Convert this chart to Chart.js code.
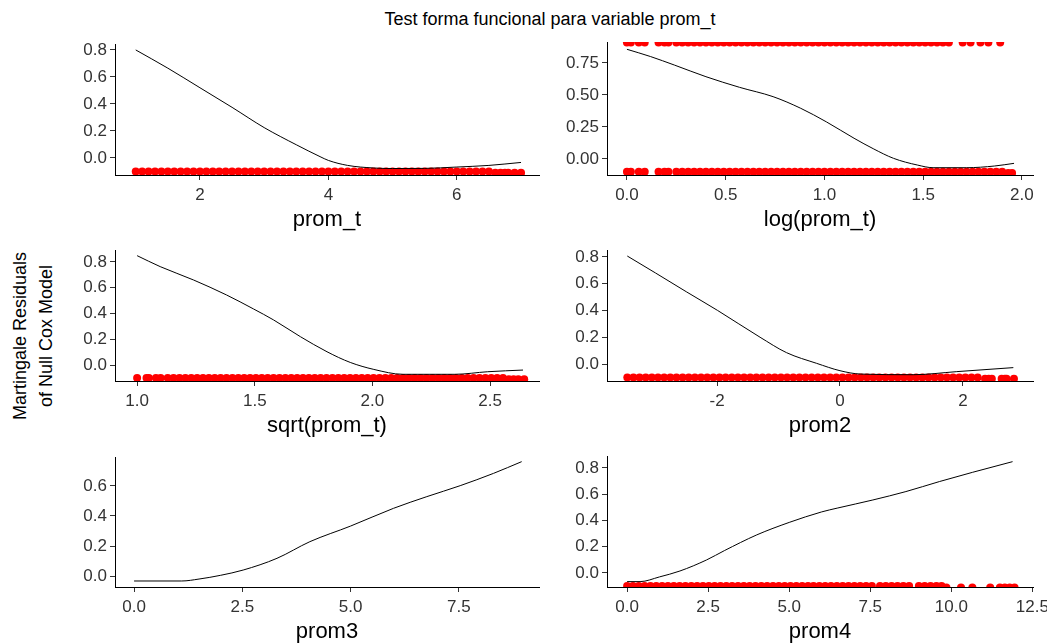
<!DOCTYPE html>
<html>
<head>
<meta charset="utf-8">
<script src="https://cdn.jsdelivr.net/npm/chart.js@4/dist/chart.umd.min.js"></script>
<style>
  body { margin: 0; width: 1047px; height: 644px; overflow: hidden; background: #fff; position: relative;
         font-family: 'Liberation Sans', Arial, sans-serif; }
  canvas { position: absolute; }
  #title { position: absolute; left: 0; top: 9px; width: 1100px; text-align: center; font-size: 18px; color: #000; }
  #ylab { position: absolute; left: -67px; top: 310px; width: 200px; height: 52px; line-height: 26px;
          text-align: center; font-size: 18px; color: #000; transform: rotate(-90deg); }
</style>
</head>
<body>
<div id="title"></div>
<div id="ylab"></div>
<script>
const titleText = 'Test forma funcional para variable prom_t';
const yLabelLines = ['Martingale Residuals', 'of Null Cox Model'];

// levels where the (clipped) residual points sit
const bandLevel = -0.1;
const tailLevel = -0.11;
const eventLevel = 0.91;

// ---- prom_t ----
const promTLineX = [1.0, 1.5, 2.0, 2.5, 3.0, 3.5, 3.87, 4.0, 4.3, 4.7, 5.0, 5.5, 6.0, 6.5, 7.0];
const promTLineY = [0.80, 0.665, 0.52, 0.375, 0.225, 0.098, 0.01, -0.018, -0.055, -0.074, -0.078, -0.077, -0.067, -0.055, -0.033];
const promTResX = [1.0,1.1,1.2,1.3,1.4,1.5,1.6,1.7,1.8,1.9,2.0,2.1,2.2,2.3,2.4,2.5,2.6,2.7,2.8,2.9,3.0,3.1,3.2,3.3,3.4,3.5,3.6,3.7,3.8,3.9,4.0,4.1,4.2,4.3,4.4,4.5,4.6,4.7,4.8,4.9,5.0,5.1,5.2,5.3,5.4,5.5,5.6,5.7,5.8,5.9,6.0,6.1,6.2,6.3,6.4,6.5];
const promTTailX = [6.6, 6.68, 6.75, 6.8, 6.9, 7.0];
const promTXTicks = ['2', '4', '6'];
const promTYTicks = ['0.0', '0.2', '0.4', '0.6', '0.8'];

// ---- log(prom_t) ----
const logLineX = [0, 0.12, 0.24, 0.40, 0.57, 0.74, 0.88, 1.01, 1.15, 1.25, 1.35, 1.47, 1.55, 1.72, 1.86, 1.96];
const logLineY = [0.857, 0.80, 0.734, 0.643, 0.56, 0.487, 0.396, 0.29, 0.162, 0.078, 0.005, -0.047, -0.068, -0.068, -0.055, -0.034];
const logResX = [0,0.02,0.06,0.09,0.16,0.19,0.21,0.25,0.28,0.31,0.34,0.37,0.40,0.43,0.46,0.49,0.52,0.55,0.58,0.61,0.64,0.67,0.70,0.73,0.76,0.79,0.82,0.85,0.88,0.91,0.94,0.97,1.00,1.03,1.06,1.09,1.12,1.15,1.18,1.21,1.24,1.27,1.30,1.33,1.36,1.39,1.42,1.45,1.48,1.51,1.54,1.57,1.60,1.63,1.66,1.69,1.72,1.75,1.78,1.81,1.84,1.87,1.90];
const logTailX = [1.93, 1.95];
const logEventX = [0,0.02,0.06,0.09,0.16,0.19,0.21,0.25,0.28,0.31,0.34,0.37,0.40,0.43,0.46,0.49,0.52,0.55,0.58,0.61,0.64,0.67,0.70,0.73,0.76,0.79,0.82,0.85,0.88,0.91,0.94,0.97,1.00,1.03,1.06,1.09,1.12,1.15,1.18,1.21,1.24,1.27,1.30,1.33,1.36,1.39,1.42,1.45,1.48,1.51,1.54,1.57,1.60,1.63,1.70,1.74,1.79,1.83,1.89];
const logXTicks = ['0.0', '0.5', '1.0', '1.5', '2.0'];
const logYTicks = ['0.00', '0.25', '0.50', '0.75'];

// ---- sqrt(prom_t) ----
const sqrtLineX = [1.0, 1.098, 1.24, 1.38, 1.495, 1.58, 1.694, 1.807, 1.906, 2.006, 2.13, 2.35, 2.49, 2.64];
const sqrtLineY = [0.849, 0.764, 0.66, 0.544, 0.435, 0.35, 0.22, 0.103, 0.02, -0.034, -0.072, -0.072, -0.052, -0.039];
const sqrtResX = [1.0,1.04,1.05,1.08,1.1,1.13,1.155,1.18,1.205,1.23,1.255,1.28,1.305,1.33,1.355,1.38,1.405,1.43,1.455,1.48,1.505,1.53,1.555,1.58,1.605,1.63,1.655,1.68,1.705,1.73,1.755,1.78,1.805,1.83,1.855,1.88,1.905,1.93,1.955,1.98,2.005,2.03,2.055,2.08,2.105,2.13,2.155,2.18,2.205,2.23,2.255,2.28,2.305,2.33,2.355,2.38,2.405,2.43,2.455,2.48,2.505,2.53,2.555];
const sqrtTailX = [2.58, 2.6, 2.62, 2.645];
const sqrtXTicks = ['1.0', '1.5', '2.0', '2.5'];
const sqrtYTicks = ['0.0', '0.2', '0.4', '0.6', '0.8'];

// ---- prom2 ----
const prom2LineX = [-3.46, -3.0, -2.5, -1.99, -1.30, -0.87, -0.38, 0.0, 0.33, 1.19, 1.90, 2.82];
const prom2LineY = [0.807, 0.68, 0.54, 0.40, 0.20, 0.085, 0.005, -0.05, -0.075, -0.08, -0.057, -0.027];
const prom2ResX = [-3.46,-3.36,-3.26,-3.16,-3.06,-2.96,-2.86,-2.76,-2.66,-2.56,-2.46,-2.36,-2.26,-2.16,-2.06,-1.96,-1.86,-1.76,-1.66,-1.56,-1.46,-1.36,-1.26,-1.16,-1.06,-0.96,-0.86,-0.76,-0.66,-0.56,-0.46,-0.36,-0.26,-0.16,-0.06,0.04,0.14,0.24,0.34,0.44,0.54,0.64,0.74,0.84,0.94,1.04,1.14,1.24,1.34,1.44,1.54,1.64,1.74,1.84,1.94,2.04,2.14,2.24];
const prom2TailX = [2.36, 2.42, 2.47, 2.63, 2.68, 2.71, 2.83];
const prom2XTicks = ['-2', '0', '2'];
const prom2YTicks = ['0.0', '0.2', '0.4', '0.6', '0.8'];

// ---- prom3 ----
const prom3LineX = [0, 1.1, 1.5, 2.0, 2.52, 3.3, 4.06, 5.0, 5.99, 6.76, 7.53, 8.3, 8.95];
const prom3LineY = [-0.033, -0.033, -0.02, 0.005, 0.04, 0.118, 0.229, 0.333, 0.451, 0.529, 0.602, 0.684, 0.762];
const prom3XTicks = ['0.0', '2.5', '5.0', '7.5'];
const prom3YTicks = ['0.0', '0.2', '0.4', '0.6'];

// ---- prom4 ----
const prom4LineX = [0, 0.4, 1.0, 1.63, 2.45, 3.0, 4.0, 5.0, 6.0, 6.5, 7.58, 8.6, 9.63, 10.66, 11.89];
const prom4LineY = [-0.066, -0.066, -0.03, 0.015, 0.099, 0.17, 0.29, 0.385, 0.465, 0.495, 0.556, 0.62, 0.696, 0.767, 0.848];
const prom4ResX = [0,0.18,0.36,0.54,0.72,0.9,1.08,1.26,1.44,1.62,1.8,1.98,2.16,2.34,2.52,2.7,2.88,3.06,3.24,3.42,3.6,3.78,3.96,4.14,4.32,4.5,4.68,4.86,5.04,5.22,5.4,5.58,5.75,5.93,6.11,6.29,6.47,6.65,6.83,7.01,7.19,7.37,7.55,7.8,7.98,8.16,8.34,8.52,8.7,9.0,9.18,9.36,9.54,9.7];
const prom4TailX = [9.85, 10.3, 10.65, 11.2, 11.5, 11.65, 11.8, 11.95];
const prom4XTicks = ['0.0', '2.5', '5.0', '7.5', '10.0', '12.5'];
const prom4YTicks = ['0.0', '0.2', '0.4', '0.6', '0.8'];

const panels = [
  { name: 'prom_t', lx: promTLineX, ly: promTLineY,
    bands: [[promTResX, bandLevel], [promTTailX, tailLevel]],
    xr: [0.677, 7.28], yr: [-0.126, 0.844], xt: promTXTicks, yt: promTYTicks },
  { name: 'log(prom_t)', lx: logLineX, ly: logLineY,
    bands: [[logResX, bandLevel], [logTailX, tailLevel], [logEventX, eventLevel]],
    xr: [-0.101, 2.056], yr: [-0.125, 0.914], xt: logXTicks, yt: logYTicks },
  { name: 'sqrt(prom_t)', lx: sqrtLineX, ly: sqrtLineY,
    bands: [[sqrtResX, bandLevel], [sqrtTailX, tailLevel]],
    xr: [0.906, 2.708], yr: [-0.124, 0.893], xt: sqrtXTicks, yt: sqrtYTicks },
  { name: 'prom2', lx: prom2LineX, ly: prom2LineY,
    bands: [[prom2ResX, bandLevel], [prom2TailX, tailLevel]],
    xr: [-3.79, 3.14], yr: [-0.127, 0.852], xt: prom2XTicks, yt: prom2YTicks },
  { name: 'prom3', lx: prom3LineX, ly: prom3LineY,
    bands: [],
    xr: [-0.44, 9.35], yr: [-0.073, 0.793], xt: prom3XTicks, yt: prom3YTicks },
  { name: 'prom4', lx: prom4LineX, ly: prom4LineY,
    bands: [[prom4ResX, bandLevel], [prom4TailX, tailLevel]],
    xr: [-0.62, 12.52], yr: [-0.107, 0.891], xt: prom4XTicks, yt: prom4YTicks },
];

// panel frames on the page: y-axis x, panel top, x-axis y, panel right
const frames = [
  { ax: 115, top: 44, bottom: 175, right: 539 },
  { ax: 607, top: 42, bottom: 175, right: 1033 },
  { ax: 115, top: 250, bottom: 381, right: 539 },
  { ax: 607, top: 250, bottom: 381, right: 1033 },
  { ax: 115, top: 457, bottom: 587, right: 539 },
  { ax: 607, top: 456, bottom: 587, right: 1033 },
];

document.getElementById('title').textContent = titleText;
document.getElementById('ylab').innerHTML = yLabelLines.join('<br>');

const family = "'Liberation Sans', Arial, sans-serif";
const yAxisW = 60, xAxisH = 62, padTop = 10, padRight = 14;

function axisOpts(range, labels, horizontal, title) {
  const values = labels.map(Number);
  return {
    type: 'linear',
    min: range[0],
    max: range[1],
    border: { display: true, color: '#000', width: 1 },
    grid: { display: true, drawOnChartArea: false, drawTicks: true, tickLength: 5, color: '#333', lineWidth: 1 },
    ticks: {
      color: '#333',
      font: { family: family, size: 17 },
      padding: horizontal ? 5 : 3,
      maxRotation: 0,
      autoSkip: false,
      callback: (v, i) => labels[i],
    },
    afterBuildTicks: s => { s.ticks = values.map(v => ({ value: v })); },
    title: horizontal
      ? { display: true, text: title, color: '#000', font: { family: family, size: 22 }, padding: { top: 0, bottom: 4 } }
      : { display: false },
    afterFit: s => {
      if (horizontal) {
        s.height = xAxisH;
        s.paddingLeft = 0;
        s.paddingRight = 0;
      } else {
        s.width = yAxisW;
        s.paddingTop = 0;
        s.paddingBottom = 0;
      }
    },
  };
}

panels.forEach((p, k) => {
  const f = frames[k];
  const canvas = document.createElement('canvas');
  const left = f.ax - yAxisW;
  const top = f.top - padTop;
  canvas.width = f.right + padRight - left;
  canvas.height = f.bottom + xAxisH - top;
  canvas.style.left = left + 'px';
  canvas.style.top = top + 'px';
  document.body.appendChild(canvas);

  const datasets = [{
    data: p.lx.map((x, i) => ({ x: x, y: p.ly[i] })),
    showLine: true,
    borderColor: '#000',
    borderWidth: 1,
    pointRadius: 0,
    cubicInterpolationMode: 'monotone',
    clip: 0,
    order: 0,
  }];
  p.bands.forEach(b => {
    datasets.push({
      data: b[0].map(x => ({ x: x, y: b[1] })),
      pointRadius: 4,
      pointBackgroundColor: '#ff0000',
      backgroundColor: '#ff0000',
      borderColor: '#ff0000',
      pointBorderWidth: 0,
      borderWidth: 0,
      clip: 0,
      order: 1,
    });
  });

  new Chart(canvas, {
    type: 'scatter',
    data: { datasets: datasets },
    options: {
      responsive: false,
      animation: false,
      events: [],
      layout: { padding: { top: padTop, right: padRight, left: 0, bottom: 0 } },
      plugins: { legend: { display: false }, tooltip: { enabled: false } },
      scales: {
        x: axisOpts(p.xr, p.xt, true, p.name),
        y: axisOpts(p.yr, p.yt, false),
      },
    },
  });
});
</script>
</body>
</html>
